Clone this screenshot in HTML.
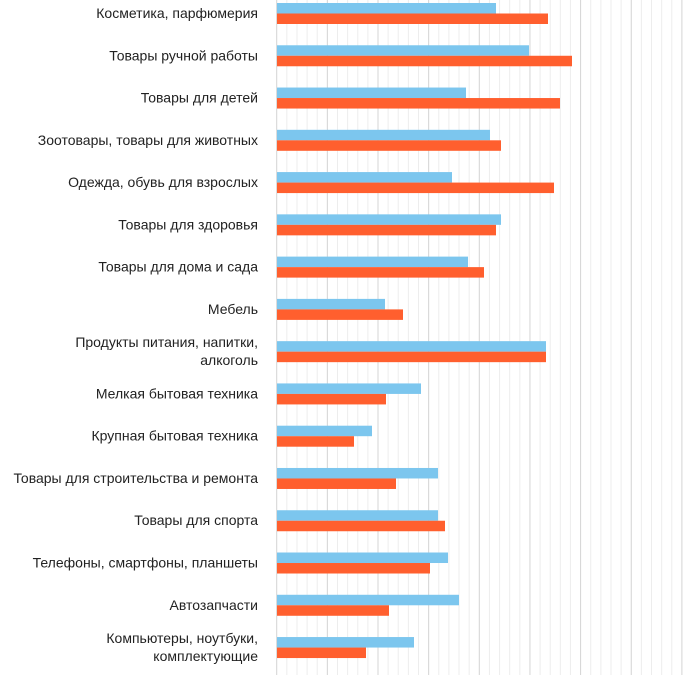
<!DOCTYPE html>
<html><head><meta charset="utf-8"><style>
body{margin:0;background:#fff;width:700px;height:675px;overflow:hidden}
</style></head><body>
<svg width="700" height="675" xmlns="http://www.w3.org/2000/svg" font-family="Liberation Sans, sans-serif" font-size="14" fill="#222">
<g id="grid"></g>
<g id="bars"></g>
<g id="labels" text-anchor="end"></g>
<script>
var g=document.getElementById('grid'),b=document.getElementById('bars'),l=document.getElementById('labels');
var NS='http://www.w3.org/2000/svg';
function el(p,t,a,txt){var e=document.createElementNS(NS,t);for(var k in a)e.setAttribute(k,a[k]);if(txt)e.textContent=txt;p.appendChild(e);return e;}
for(var i=0;i<=40;i++){var x=276.7+i*10.13;if(x>700)break;el(g,'line',{x1:x,x2:x,y1:0,y2:675,stroke:i%5==0?'#d4d4d4':'#ededed','stroke-width':1});}
var d=[["Косметика, парфюмерия",496,548],["Товары ручной работы",529,572],["Товары для детей",466,560],["Зоотовары, товары для животных",490,501],["Одежда, обувь для взрослых",452,554],["Товары для здоровья",501,496],["Товары для дома и сада",468,484],["Мебель",385,403],["Продукты питания, напитки,|алкоголь",546,546],["Мелкая бытовая техника",421,386],["Крупная бытовая техника",372,354],["Товары для строительства и ремонта",438,396],["Товары для спорта",438,445],["Телефоны, смартфоны, планшеты",448,430],["Автозапчасти",459,389],["Компьютеры, ноутбуки,|комплектующие",414,366]];
d.forEach(function(r,i){var y=3+i*42.27;
el(b,'rect',{x:277,y:y,width:r[1]-277,height:10.5,fill:'#7cc6ee'});
el(b,'rect',{x:277,y:y+10.5,width:r[2]-277,height:10.5,fill:'#ff5f2e'});
var parts=r[0].split('|');
if(parts.length==1)el(l,'text',{x:258,y:y+15},parts[0]);
else{el(l,'text',{x:258,y:y+6},parts[0]);el(l,'text',{x:258,y:y+24},parts[1]);}
});
</script>
</svg>
</body></html>
